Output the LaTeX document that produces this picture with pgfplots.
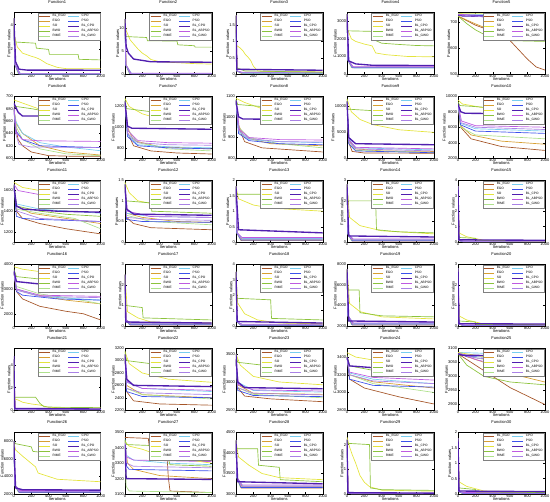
\documentclass[border=0pt]{standalone}
\usepackage{fontspec}
\setmainfont{Liberation Sans}
\usepackage{pgfplots}
\pgfplotsset{compat=1.18}
\usepgfplotslibrary{groupplots}
\definecolor{c1}{RGB}{165,85,40}
\definecolor{c2}{RGB}{215,160,50}
\definecolor{c3}{RGB}{228,228,60}
\definecolor{c4}{RGB}{140,195,60}
\definecolor{c5}{RGB}{175,225,140}
\definecolor{c6}{RGB}{120,205,240}
\definecolor{c7}{RGB}{60,80,235}
\definecolor{c8}{RGB}{80,30,175}
\definecolor{c9}{RGB}{190,90,225}
\definecolor{c10}{RGB}{170,130,230}
\newcommand\tfont{\fontsize{3}{3.4}\selectfont}
\newcommand\lfont{\fontsize{2.4}{2.7}\selectfont}
\pgfplotsset{
 s1/.style={c1,line width=0.5pt},
 s2/.style={c2,line width=0.5pt},
 s3/.style={c3,line width=0.5pt},
 s4/.style={c4,line width=0.5pt},
 s5/.style={c5,line width=0.5pt},
 s6/.style={c6,line width=0.5pt},
 s7/.style={c7,line width=0.5pt},
 s8/.style={c8,line width=1.0pt},
 s9/.style={c9,line width=0.5pt},
 s10/.style={c10,line width=0.5pt},
}
\newcommand\Rr[2]{\addplot[#1,forget plot] coordinates {#2};}
\newcommand\Leg{\addlegendimage{s1}\addlegendimage{s6}\addlegendimage{s2}\addlegendimage{s7}\addlegendimage{s3}\addlegendimage{s8}\addlegendimage{s4}\addlegendimage{s9}\addlegendimage{s5}\addlegendimage{s10}}
\newcommand\Low[9]{%
 \Rr{s1}{(0,#1)(12,#2)(60,#3)(1000,#3)}%
 \Rr{s2}{(0,#1)(15,#2)(70,#4)(1000,#4)}%
 \Rr{s5}{(0,#1)(10,#2)(50,#5)(1000,#5)}%
 \Rr{s6}{(0,#1)(12,#2)(80,#6)(1000,#6)}%
 \Rr{s7}{(0,#1)(10,#2)(60,#7)(1000,#7)}%
 \Rr{s9}{(0,#1)(14,#2)(70,#8)(1000,#8)}%
 \Rr{s10}{(0,#1)(12,#2)(60,#9)(1000,#9)}}
\newcommand\Exp[1]{\node[anchor=south west,inner sep=0.3pt,font=\tfont] at (rel axis cs:0,1) {×10\textsuperscript{#1}};}
\newcommand\Pn[3]{\nextgroupplot[title={Function#1},ymin=#2,ymax=#3]\Leg}
\begin{document}
\begin{tikzpicture}
\begin{groupplot}[
 group style={group size=5 by 6, horizontal sep=18pt, vertical sep=16.4pt},
 scale only axis, width=64.5pt, height=46pt,
 xmin=0, xmax=1000, xtick={0,200,...,1000},
 scaled y ticks=false, scaled x ticks=false,
 /pgf/number format/assume math mode=true,
 /pgf/number format/1000 sep={},
 tick label style={font=\tfont, inner sep=0.5pt},
 label style={font=\tfont, inner sep=0.5pt},
 title style={font=\tfont, inner sep=0.6pt, yshift=-0.5pt},
 xlabel={Iterations}, ylabel={Function values},
 xlabel style={yshift=1.5pt},
 ylabel style={yshift=-1pt},
 major tick length=1.5pt,
 axis line style={line width=0.25pt},
 every tick/.style={line width=0.25pt, black},
 legend entries={BL\_EGO,CPO,EGO,PSO,SO,BL\_CPO,BWO,BL\_ABPSO,RIME,BL\_GWO},
 legend columns=2, legend cell align=left,
 legend style={font=\lfont, at={(0.99,0.99)}, anchor=north east, draw=black!50, line width=0.2pt, inner sep=0.5pt, column sep=1.2pt, nodes={inner sep=0.3pt}},
 legend image code/.code={\draw[#1] (0pt,0pt) -- (8pt,0pt);},
]
% ---------- Row 1
\Pn{1}{0}{5}
\Low{4.5}{0.8}{0.02}{0.04}{0.03}{0.01}{0.015}{0.06}{0.05}
\Rr{s3}{(0,4.5)(10,3)(40,2.2)(100,1.7)(200,1.45)(250,1.35)(300,1.2)(380,0.85)(500,0.55)(600,0.45)(1000,0.45)}
\Rr{s4}{(0,4.5)(8,2.6)(250,2.5)(260,2.1)(400,2.0)(410,1.6)(740,1.6)(750,1.2)(1000,1.15)}
\Rr{s8}{(0,4.5)(20,1)(60,0.4)(150,0.33)(1000,0.32)}
\Exp{10}
\Pn{2}{0}{13.5}
\Low{12}{2}{0.1}{0.15}{0.12}{0.08}{0.1}{0.2}{0.15}
\Rr{s3}{(0,12)(15,9.5)(60,7.5)(100,6.6)(150,5.5)(200,4.6)(250,4)(300,3.2)(400,2.7)(600,2.5)(800,2.3)(1000,2.2)}
\Rr{s4}{(0,12)(8,8.2)(250,8)(260,7.3)(600,7.2)(610,6.4)(800,6.2)(810,5.9)(1000,5.9)}
\Rr{s8}{(0,12)(15,6)(40,4.6)(100,3.3)(300,2.7)(1000,2.6)}
\Exp{12}
\Pn{3}{0}{1.9}
\Low{1.8}{0.1}{0.03}{0.05}{0.04}{0.03}{0.04}{0.06}{0.05}
\Rr{s3}{(0,1.8)(8,0.88)(50,0.8)(80,0.72)(110,0.6)(140,0.52)(170,0.42)(200,0.25)(250,0.1)(400,0.08)(1000,0.07)}
\Rr{s4}{(0,1.8)(10,0.2)(100,0.1)(1000,0.06)}
\Rr{s8}{(0,1.8)(10,0.15)(1000,0.12)}
\Exp{5}
\Pn{4}{0}{3500}
\Low{3400}{800}{360}{400}{380}{350}{370}{420}{400}
\Rr{s3}{(0,3400)(10,2500)(50,2000)(100,1850)(200,1700)(290,1600)(300,1500)(330,1200)(450,1100)(700,1000)(1000,980)}
\Rr{s4}{(0,3400)(8,2450)(280,2420)(290,2000)(330,1900)(400,1750)(600,1680)(800,1620)(1000,1600)}
\Rr{s8}{(0,3400)(20,750)(100,580)(300,500)(1000,490)}
\Pn{5}{500}{740}
\Rr{s1}{(0,725)(200,690)(350,672)(500,648)(600,630)(700,594)(800,558)(900,528)(1000,516)}
\Rr{s2}{(0,725)(200,695)(400,668)(600,655)(1000,652)}
\Rr{s3}{(0,735)(550,733)(650,720)(800,690)(1000,655)}
\Rr{s4}{(0,725)(100,696)(200,672)(300,654)(400,642)(500,633)(600,630)(1000,627)}
\Rr{s5}{(0,730)(300,727)(1000,724)}
\Rr{s6}{(0,733)(200,732)(1000,731)}
\Rr{s7}{(0,730)(100,728)(500,726)(1000,725)}
\Rr{s8}{(0,730)(50,726)(300,724)(1000,723)}
\Rr{s9}{(0,732)(200,729)(1000,727)}
\Rr{s10}{(0,730)(300,722)(1000,714)}
% ---------- Row 2
\Pn{6}{600}{700}
\Rr{s1}{(0,680)(20,650)(50,630)(100,620)(200,610)(400,604)(700,603)(1000,603)}
\Rr{s2}{(0,680)(30,655)(100,640)(300,620)(600,610)(1000,605)}
\Rr{s5}{(0,680)(30,650)(100,630)(300,615)(600,607)(1000,604)}
\Rr{s6}{(0,680)(20,660)(100,640)(300,625)(600,618)(1000,612)}
\Rr{s7}{(0,680)(20,645)(100,630)(300,620)(1000,617)}
\Rr{s9}{(0,685)(30,640)(100,630)(300,628)(1000,627)}
\Rr{s10}{(0,680)(20,640)(60,622)(200,618)(1000,617)}
\Rr{s3}{(0,694)(100,689)(300,679)(600,674)(1000,670)}
\Rr{s4}{(0,684)(200,680)(400,675)(1000,673)}
\Rr{s8}{(0,689)(50,674)(100,668)(1000,668)}
\Pn{7}{700}{1300}
\Rr{s1}{(0,1250)(30,950)(100,820)(300,770)(600,750)(1000,740)}
\Rr{s2}{(0,1250)(30,1000)(100,870)(400,810)(1000,790)}
\Rr{s5}{(0,1250)(30,980)(150,850)(500,790)(1000,770)}
\Rr{s6}{(0,1250)(30,930)(150,830)(500,810)(1000,800)}
\Rr{s7}{(0,1250)(30,910)(150,820)(500,800)(1000,790)}
\Rr{s9}{(0,1250)(40,960)(150,870)(500,850)(1000,845)}
\Rr{s10}{(0,1250)(30,940)(150,850)(500,830)(1000,825)}
\Rr{s3}{(0,1280)(50,1200)(200,1130)(400,1080)(700,1050)(1000,1040)}
\Rr{s4}{(0,1270)(20,1180)(300,1150)(500,1100)(1000,1080)}
\Rr{s8}{(0,1250)(30,1010)(80,990)(1000,980)}
\Pn{8}{800}{1100}
\Rr{s1}{(0,1080)(30,950)(100,880)(300,850)(1000,830)}
\Rr{s2}{(0,1080)(30,960)(100,900)(400,870)(1000,860)}
\Rr{s5}{(0,1080)(30,950)(150,900)(500,870)(1000,850)}
\Rr{s6}{(0,1080)(30,930)(150,890)(500,880)(1000,875)}
\Rr{s7}{(0,1080)(30,920)(150,885)(500,870)(1000,865)}
\Rr{s9}{(0,1080)(40,940)(150,900)(500,890)(1000,888)}
\Rr{s10}{(0,1080)(30,935)(150,895)(500,880)(1000,878)}
\Rr{s3}{(0,1090)(100,1070)(300,1040)(600,1020)(1000,1010)}
\Rr{s4}{(0,1085)(20,1060)(300,1050)(500,1020)(1000,1000)}
\Rr{s8}{(0,1080)(30,1000)(80,990)(1000,985)}
\Pn{9}{0}{12000}
\Rr{s1}{(0,11000)(20,3000)(60,1300)(200,1000)(1000,950)}
\Rr{s2}{(0,11000)(20,3500)(100,1800)(400,1400)(1000,1300)}
\Rr{s5}{(0,11000)(20,3200)(100,1500)(1000,1100)}
\Rr{s6}{(0,11000)(20,3800)(100,2000)(1000,1600)}
\Rr{s7}{(0,11000)(20,2800)(100,1400)(1000,1050)}
\Rr{s9}{(0,11000)(20,3600)(100,2100)(1000,1800)}
\Rr{s10}{(0,11000)(20,3300)(100,1800)(1000,1400)}
\Rr{s3}{(0,11500)(50,9000)(150,7500)(300,6500)(600,5500)(1000,5000)}
\Rr{s4}{(0,11500)(10,9500)(300,9200)(310,7500)(700,7200)(1000,6800)}
\Rr{s8}{(0,11000)(20,4000)(100,2800)(1000,2600)}
\Pn{10}{2000}{10000}
\Rr{s1}{(0,9000)(30,6000)(150,4500)(500,3500)(1000,3000)}
\Rr{s2}{(0,9000)(30,6200)(150,5000)(500,4200)(1000,3800)}
\Rr{s5}{(0,9000)(30,6000)(200,5000)(1000,4500)}
\Rr{s6}{(0,9000)(30,6500)(200,5800)(1000,5500)}
\Rr{s7}{(0,9000)(30,6300)(200,5500)(1000,5200)}
\Rr{s9}{(0,9000)(40,6800)(200,6200)(1000,6000)}
\Rr{s10}{(0,9000)(30,6600)(200,6000)(1000,5700)}
\Rr{s3}{(0,9500)(50,9000)(300,8500)(600,8200)(1000,8000)}
\Rr{s4}{(0,9300)(20,8800)(400,8500)(1000,8300)}
\Rr{s8}{(0,9000)(30,8000)(80,7800)(1000,7700)}
% ---------- Row 3
\Pn{11}{1100}{1700}
\Rr{s1}{(0,1650)(30,1400)(100,1330)(300,1280)(600,1230)(1000,1180)}
\Rr{s2}{(0,1650)(30,1450)(200,1380)(600,1330)(1000,1280)}
\Rr{s5}{(0,1650)(30,1420)(300,1380)(700,1330)(1000,1230)}
\Rr{s6}{(0,1650)(30,1470)(300,1420)(1000,1380)}
\Rr{s7}{(0,1650)(30,1350)(100,1330)(300,1320)(1000,1300)}
\Rr{s9}{(0,1660)(50,1600)(300,1560)(1000,1555)}
\Rr{s10}{(0,1650)(40,1400)(300,1330)(1000,1300)}
\Rr{s3}{(0,1680)(100,1630)(300,1600)(600,1560)(700,1520)(1000,1500)}
\Rr{s4}{(0,1660)(30,1450)(300,1400)(600,1370)(1000,1350)}
\Rr{s8}{(0,1650)(30,1450)(100,1420)(500,1400)(1000,1390)}
\Pn{12}{0}{1.5}
\Rr{s1}{(0,1.4)(20,0.6)(100,0.45)(300,0.35)(1000,0.3)}
\Rr{s2}{(0,1.4)(20,0.7)(200,0.6)(600,0.5)(1000,0.48)}
\Rr{s5}{(0,1.4)(20,0.65)(300,0.5)(1000,0.42)}
\Rr{s6}{(0,1.4)(20,0.7)(300,0.62)(1000,0.6)}
\Rr{s7}{(0,1.4)(20,0.55)(200,0.5)(1000,0.48)}
\Rr{s9}{(0,1.4)(30,0.75)(300,0.62)(1000,0.6)}
\Rr{s10}{(0,1.4)(20,0.6)(300,0.55)(1000,0.53)}
\Rr{s3}{(0,1.45)(50,1.2)(150,1.0)(400,0.9)(1000,0.85)}
\Rr{s4}{(0,1.45)(15,1.0)(300,0.95)(310,0.75)(1000,0.7)}
\Rr{s8}{(0,1.4)(20,0.8)(100,0.68)(1000,0.65)}
\Exp{6}
\Pn{13}{0}{2}
\Low{1.8}{0.3}{0.05}{0.1}{0.08}{0.12}{0.07}{0.15}{0.1}
\Rr{s3}{(0,1.8)(30,1.4)(200,1.2)(400,1.1)(1000,1.0)}
\Rr{s4}{(0,1.8)(10,1.55)(350,1.55)(360,1.35)(1000,1.3)}
\Rr{s8}{(0,1.8)(30,0.4)(1000,0.3)}
\Exp{5}
\Pn{14}{0}{3}
\Low{2.8}{0.4}{0.05}{0.1}{0.08}{0.12}{0.07}{0.15}{0.1}
\Rr{s3}{(0,2.8)(30,1.2)(150,0.8)(400,0.55)(1000,0.4)}
\Rr{s4}{(0,2.8)(10,2.0)(330,2.0)(340,0.6)(600,0.5)(1000,0.45)}
\Rr{s8}{(0,2.8)(20,0.3)(1000,0.25)}
\Exp{4}
\Pn{15}{0}{4}
\Low{3.6}{0.1}{0.02}{0.04}{0.03}{0.05}{0.03}{0.06}{0.04}
\Rr{s3}{(0,3.6)(10,0.6)(100,0.35)(300,0.12)(1000,0.08)}
\Rr{s4}{(0,3.6)(10,0.3)(200,0.25)(210,0.1)(1000,0.08)}
\Rr{s8}{(0,3.6)(10,0.15)(1000,0.12)}
\Exp{5}
% ---------- Row 4
\Pn{16}{1500}{4000}
\Rr{s1}{(0,3700)(30,2900)(100,2600)(300,2300)(600,2100)(800,2000)(1000,1750)}
\Rr{s2}{(0,3700)(30,3000)(200,2800)(600,2550)(1000,2400)}
\Rr{s5}{(0,3700)(30,3100)(300,2800)(700,2600)(1000,2400)}
\Rr{s6}{(0,3700)(30,3000)(300,2700)(1000,2550)}
\Rr{s7}{(0,3700)(30,2900)(100,2750)(500,2600)(1000,2550)}
\Rr{s9}{(0,3700)(30,3000)(300,2750)(1000,2700)}
\Rr{s10}{(0,3700)(30,2950)(300,2700)(1000,2650)}
\Rr{s3}{(0,3900)(100,3800)(300,3700)(600,3600)(1000,3500)}
\Rr{s4}{(0,3800)(30,3500)(300,3400)(600,3350)(1000,3300)}
\Rr{s8}{(0,3750)(30,3300)(300,3200)(1000,3150)}
\Pn{17}{0}{3}
\Low{2.5}{0.3}{0.05}{0.1}{0.08}{0.12}{0.07}{0.15}{0.1}
\Rr{s3}{(0,2.5)(30,0.7)(150,0.4)(300,0.2)(1000,0.15)}
\Rr{s4}{(0,2.5)(10,1.0)(200,0.9)(210,0.4)(1000,0.3)}
\Rr{s8}{(0,2.5)(10,0.2)(1000,0.15)}
\Exp{4}
\Pn{18}{0}{4}
\Low{3.5}{0.3}{0.04}{0.08}{0.06}{0.1}{0.05}{0.12}{0.08}
\Rr{s3}{(0,3.5)(20,1.5)(100,0.8)(250,0.4)(500,0.2)(1000,0.15)}
\Rr{s4}{(0,3.5)(10,1.8)(400,1.7)(410,0.5)(1000,0.4)}
\Rr{s8}{(0,3.5)(15,0.3)(1000,0.2)}
\Exp{6}
\Pn{19}{2000}{8000}
\Low{7500}{3000}{2100}{2200}{2150}{2250}{2120}{2300}{2200}
\Rr{s3}{(0,7500)(30,4200)(150,3400)(400,2900)(1000,2700)}
\Rr{s4}{(0,7500)(10,5500)(140,5500)(150,3300)(400,3000)(1000,2900)}
\Rr{s8}{(0,7500)(20,2500)(1000,2400)}
\Pn{20}{0}{3}
\Low{2.8}{0.1}{0.02}{0.04}{0.03}{0.05}{0.03}{0.06}{0.04}
\Rr{s3}{(0,2.8)(10,0.5)(100,0.3)(300,0.1)(1000,0.07)}
\Rr{s4}{(0,2.8)(10,0.25)(200,0.2)(210,0.08)(1000,0.06)}
\Rr{s8}{(0,2.8)(10,0.12)(1000,0.1)}
\Exp{6}
% ---------- Row 5
\Pn{21}{0}{5.5}
\Low{4.5}{0.1}{0.03}{0.05}{0.04}{0.06}{0.03}{0.08}{0.05}
\Rr{s3}{(0,4)(10,1.0)(50,0.9)(100,0.7)(200,0.55)(300,0.45)(400,0.25)(600,0.2)(1000,0.2)}
\Rr{s4}{(0,4)(8,1.15)(250,1.15)(300,0.6)(350,0.3)(500,0.25)(1000,0.22)}
\Rr{s8}{(0,4.8)(10,0.15)(1000,0.1)}
\Exp{4}
\Pn{22}{2200}{3200}
\Rr{s1}{(0,3100)(20,2500)(100,2350)(400,2300)(1000,2280)}
\Rr{s2}{(0,3100)(20,2600)(200,2450)(1000,2400)}
\Rr{s5}{(0,3100)(20,2550)(200,2450)(1000,2380)}
\Rr{s6}{(0,3100)(20,2650)(200,2550)(1000,2500)}
\Rr{s7}{(0,3100)(20,2500)(200,2420)(1000,2400)}
\Rr{s9}{(0,3100)(30,2650)(200,2550)(1000,2520)}
\Rr{s10}{(0,3100)(20,2550)(200,2480)(1000,2450)}
\Rr{s3}{(0,3150)(50,2950)(200,2800)(500,2700)(1000,2650)}
\Rr{s4}{(0,3150)(20,3000)(300,2950)(310,2850)(1000,2800)}
\Rr{s8}{(0,3100)(20,2700)(100,2600)(1000,2580)}
\Pn{23}{2500}{3600}
\Rr{s1}{(0,3400)(20,2900)(100,2750)(400,2700)(1000,2650)}
\Rr{s2}{(0,3400)(20,2950)(200,2800)(1000,2780)}
\Rr{s5}{(0,3400)(20,2900)(200,2780)(1000,2720)}
\Rr{s6}{(0,3400)(20,3000)(200,2850)(1000,2820)}
\Rr{s7}{(0,3400)(20,2850)(200,2760)(1000,2740)}
\Rr{s9}{(0,3400)(30,2950)(200,2860)(1000,2840)}
\Rr{s10}{(0,3400)(20,2900)(200,2800)(1000,2770)}
\Rr{s3}{(0,3500)(50,3300)(200,3100)(500,3000)(1000,2950)}
\Rr{s4}{(0,3500)(20,3350)(300,3300)(310,3150)(1000,3100)}
\Rr{s8}{(0,3500)(20,3000)(100,2900)(1000,2880)}
\Pn{24}{2800}{3500}
\Rr{s1}{(0,3400)(30,3150)(200,3050)(600,2950)(1000,2870)}
\Rr{s2}{(0,3400)(30,3200)(300,3120)(1000,3050)}
\Rr{s5}{(0,3400)(30,3200)(300,3100)(1000,3000)}
\Rr{s6}{(0,3400)(30,3220)(300,3150)(1000,3100)}
\Rr{s7}{(0,3400)(30,3150)(300,3080)(1000,3060)}
\Rr{s9}{(0,3400)(30,3230)(300,3170)(1000,3140)}
\Rr{s10}{(0,3400)(30,3200)(300,3130)(1000,3100)}
\Rr{s3}{(0,3450)(100,3400)(400,3350)(1000,3300)}
\Rr{s4}{(0,3420)(30,3300)(300,3250)(1000,3200)}
\Rr{s8}{(0,3400)(30,3300)(300,3280)(1000,3270)}
\Pn{25}{2880}{3100}
\Rr{s1}{(0,3080)(200,3040)(400,3000)(600,2960)(800,2930)(1000,2900)}
\Rr{s2}{(0,3080)(300,3050)(600,3010)(1000,2980)}
\Rr{s5}{(0,3080)(300,3060)(1000,3020)}
\Rr{s6}{(0,3085)(1000,3075)}
\Rr{s7}{(0,3085)(100,3070)(1000,3065)}
\Rr{s9}{(0,3085)(200,3060)(600,3030)(1000,3010)}
\Rr{s10}{(0,3085)(200,3065)(1000,3050)}
\Rr{s3}{(0,3085)(300,3070)(700,3050)(1000,3040)}
\Rr{s4}{(0,3080)(100,3040)(300,3000)(600,2980)(1000,2970)}
\Rr{s8}{(0,3080)(50,3075)(1000,3072)}
% ---------- Row 6
\Pn{26}{2000}{9000}
\Low{8000}{3000}{2200}{2300}{2250}{2350}{2220}{2400}{2300}
\Rr{s3}{(0,7880)(20,7000)(100,6300)(250,5080)(280,4380)(500,3680)(1000,3400)}
\Rr{s4}{(0,8000)(20,7700)(200,7350)(220,6830)(700,6300)(710,5950)(1000,5780)}
\Rr{s8}{(0,8000)(20,2700)(100,2500)(1000,2450)}
\Pn{27}{3100}{3500}
\Rr{s1}{(0,3466)(270,3460)(280,3410)(480,3400)(500,3210)(520,3120)(1000,3110)}
\Rr{s2}{(0,3450)(30,3300)(100,3260)(400,3220)(1000,3200)}
\Rr{s5}{(0,3450)(15,3150)(50,3120)(1000,3110)}
\Rr{s6}{(0,3460)(20,3350)(100,3320)(500,3300)(1000,3290)}
\Rr{s7}{(0,3420)(20,3280)(50,3260)(1000,3250)}
\Rr{s9}{(0,3440)(20,3340)(100,3320)(1000,3310)}
\Rr{s10}{(0,3430)(20,3300)(100,3280)(1000,3270)}
\Rr{s3}{(0,3440)(50,3410)(200,3390)(300,3370)(500,3340)(1000,3300)}
\Rr{s4}{(0,3450)(20,3420)(480,3410)(500,3330)(520,3290)(1000,3280)}
\Rr{s8}{(0,3420)(15,3200)(1000,3195)}
\Pn{28}{3000}{4500}
\Low{4300}{3400}{3150}{3180}{3170}{3200}{3160}{3220}{3190}
\Rr{s3}{(0,4300)(30,3900)(150,3700)(300,3500)(500,3400)(1000,3350)}
\Rr{s4}{(0,4300)(10,4100)(250,4100)(260,3700)(500,3650)(510,3350)(1000,3300)}
\Rr{s8}{(0,4300)(20,3300)(1000,3250)}
\Pn{29}{0}{2.5}
\Low{2.2}{0.05}{0.01}{0.02}{0.015}{0.03}{0.01}{0.03}{0.02}
\Rr{s3}{(0,2.3)(30,1.9)(60,1.6)(100,1.25)(150,0.75)(200,0.48)(260,0.3)(400,0.16)(1000,0.12)}
\Rr{s4}{(0,2.2)(10,2.05)(260,2.0)(270,0.25)(400,0.18)(1000,0.15)}
\Rr{s8}{(0,2.2)(10,0.06)(1000,0.04)}
\Exp{5}
\Pn{30}{0}{2}
\Low{1.8}{0.08}{0.01}{0.03}{0.02}{0.04}{0.02}{0.05}{0.03}
\Rr{s3}{(0,1.8)(10,0.4)(100,0.25)(300,0.1)(1000,0.06)}
\Rr{s4}{(0,1.8)(10,0.2)(200,0.15)(210,0.07)(1000,0.05)}
\Rr{s8}{(0,1.8)(10,0.1)(1000,0.08)}
\Exp{7}
\end{groupplot}
\end{tikzpicture}
\end{document}
